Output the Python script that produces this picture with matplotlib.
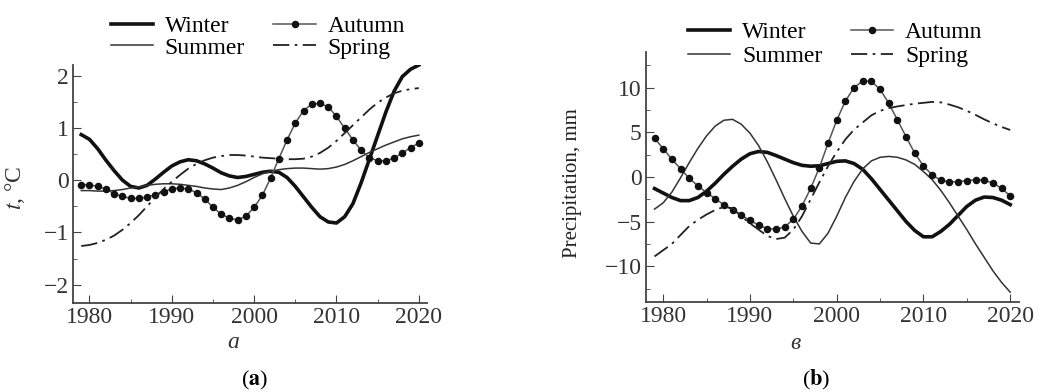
import numpy as np
import matplotlib
matplotlib.use("Agg")
from matplotlib import pyplot as plt
from matplotlib.ticker import MultipleLocator

plt.rcParams['font.family'] = 'serif'
plt.rcParams['font.serif'] = ['Liberation Serif', 'DejaVu Serif']
plt.rcParams['mathtext.fontset'] = 'stix'

years = np.arange(1979, 2021)

# (a) temperature anomalies, deg C
winter_t = [0.87, 0.78, 0.6, 0.38, 0.18, 0.0, -0.12, -0.15, -0.1, 0.02,
            0.15, 0.27, 0.35, 0.39, 0.37, 0.31, 0.23, 0.14, 0.08, 0.05,
            0.07, 0.11, 0.15, 0.17, 0.15, 0.05, -0.12, -0.32, -0.52, -0.7,
            -0.8, -0.82, -0.7, -0.45, -0.05, 0.4, 0.85, 1.3, 1.7, 1.98,
            2.12, 2.2]
summer_t = [-0.2, -0.2, -0.21, -0.21, -0.2, -0.18, -0.15, -0.13, -0.1, -0.08,
            -0.07, -0.07, -0.08, -0.1, -0.12, -0.15, -0.17, -0.18, -0.15, -0.1,
            -0.03, 0.05, 0.12, 0.17, 0.2, 0.22, 0.23, 0.23, 0.22, 0.21,
            0.22, 0.25, 0.3, 0.37, 0.45, 0.53, 0.6, 0.67, 0.73, 0.79,
            0.83, 0.86]
autumn_t = [-0.09, -0.09, -0.12, -0.17, -0.26, -0.31, -0.35, -0.35, -0.32, -0.28,
            -0.22, -0.17, -0.15, -0.17, -0.24, -0.36, -0.52, -0.65, -0.73, -0.76,
            -0.69, -0.52, -0.29, 0.04, 0.41, 0.77, 1.09, 1.33, 1.45, 1.47,
            1.4, 1.22, 0.99, 0.77, 0.57, 0.43, 0.37, 0.37, 0.42, 0.52,
            0.62, 0.71]
spring_t = [-1.26, -1.24, -1.2, -1.14, -1.06, -0.95, -0.82, -0.67, -0.5, -0.33,
            -0.17, -0.03, 0.1, 0.22, 0.31, 0.38, 0.43, 0.46, 0.48, 0.48,
            0.47, 0.45, 0.43, 0.42, 0.41, 0.4, 0.4, 0.41, 0.45, 0.52,
            0.62, 0.75, 0.9, 1.05, 1.2, 1.35, 1.48, 1.58, 1.66, 1.71,
            1.74, 1.76]

# (b) precipitation anomalies, mm
winter_p = [-1.3, -1.8, -2.3, -2.65, -2.65, -2.3, -1.6, -0.7, 0.3, 1.2,
            2.0, 2.6, 2.85, 2.75, 2.4, 2.0, 1.6, 1.3, 1.2, 1.25,
            1.5, 1.75, 1.8, 1.5, 0.85, -0.2, -1.4, -2.6, -3.8, -5.0,
            -6.0, -6.7, -6.7, -6.1, -5.3, -4.3, -3.3, -2.6, -2.25, -2.3,
            -2.6, -3.1]
summer_p = [-3.6, -2.9, -1.7, -0.1, 1.6, 3.2, 4.6, 5.7, 6.35, 6.45,
            5.9, 4.9, 3.5, 1.7, -0.3, -2.4, -4.4, -6.1, -7.4, -7.5,
            -6.3, -4.4, -2.3, -0.5, 0.9, 1.8, 2.2, 2.3, 2.2, 1.9,
            1.4, 0.6, -0.3, -1.5, -2.9, -4.4, -5.9, -7.5, -9.0, -10.5,
            -11.8, -12.9]
autumn_p = [4.33, 3.17, 1.98, 0.93, -0.15, -1.0, -1.75, -2.43, -3.13, -3.7,
            -4.3, -4.85, -5.4, -5.78, -5.86, -5.6, -4.74, -3.25, -1.27, 1.04,
            3.77, 6.34, 8.5, 10.0, 10.75, 10.7, 9.8, 8.25, 6.38, 4.5,
            2.65, 1.23, 0.22, -0.37, -0.56, -0.52, -0.41, -0.3, -0.37, -0.67,
            -1.27, -2.13]
spring_p = [-8.9, -8.2, -7.5, -6.5, -5.5, -4.8, -4.2, -3.7, -3.35, -3.5,
            -4.4, -5.2, -5.9, -6.6, -6.95, -6.8, -5.9, -4.4, -2.5, -0.6,
            1.2, 2.8, 4.2, 5.3, 6.1, 6.9, 7.4, 7.7, 7.9, 8.05,
            8.2, 8.3, 8.4, 8.35, 8.1, 7.8, 7.4, 6.95, 6.45, 6.0,
            5.6, 5.26]

labels = ['Winter', 'Summer', 'Autumn', 'Spring']

fig = plt.figure(figsize=(10.4, 3.92), dpi=100)
ax1 = fig.add_axes([0.0702, 0.227, 0.3404, 0.607])
ax2 = fig.add_axes([0.621, 0.2296, 0.3587, 0.638])


def draw(ax, w, s, a, sp):
    ax.plot(years, w, color='#111111', lw=2.6, label=labels[0])
    ax.plot(years, s, color='#333333', lw=1.1, label=labels[1])
    ax.plot(years, a, color='#555555', lw=1.1, marker='o', ms=4.4,
            mfc='#111111', mec='#111111', label=labels[2])
    ax.plot(years, sp, color='#222222', lw=1.3, ls=(0, (9, 3, 1.5, 3)),
            label=labels[3])
    for side in ['top', 'right']:
        ax.spines[side].set_visible(False)
    for side in ['left', 'bottom']:
        ax.spines[side].set_color('#444444')
        ax.spines[side].set_linewidth(1.3)
    ax.set_xlim(1978, 2021)
    ax.set_xticks([1980, 1990, 2000, 2010, 2020])
    ax.xaxis.set_minor_locator(MultipleLocator(5))
    ax.tick_params(which='both', direction='in', colors='#444444',
                   labelcolor='#333333', labelsize=17, pad=3)
    ax.tick_params(which='major', length=6)
    ax.tick_params(which='minor', length=3)
    h, l = ax.get_legend_handles_labels()
    return h, l


h, l = draw(ax1, winter_t, summer_t, autumn_t, spring_t)
ax1.set_ylim(-2.35, 2.2)
ax1.set_yticks([-2, -1, 0, 1, 2])
ax1.set_yticklabels(['\u22122', '\u22121', '0', '1', '2'])
ax1.yaxis.set_minor_locator(MultipleLocator(0.5))
ax1.set_ylabel(r'$t$, °C', fontsize=17, color='#333333')
ax1.yaxis.set_label_coords(-0.13, 0.483)
ax1.text(0.452, -0.164, 'a', transform=ax1.transAxes, fontsize=17,
         style='italic', ha='center', va='center', color='#333333')
ax1.legend(h, l, ncol=2, frameon=False, loc='center',
           bbox_to_anchor=(0.522, 1.118), fontsize=17, handlelength=1.8,
           handletextpad=0.5, columnspacing=1.2, labelspacing=0.0)

h, l = draw(ax2, winter_p, summer_p, autumn_p, spring_p)
ax2.set_ylim(-14, 14)
ax2.set_yticks([-10, -5, 0, 5, 10])
ax2.set_yticklabels(['\u221210', '\u22125', '0', '5', '10'])
ax2.yaxis.set_minor_locator(MultipleLocator(2.5))
ax2.set_ylabel('Precipitation, mm', fontsize=15, color='#222222')
ax2.yaxis.set_label_coords(-0.172, 0.476)
ax2.text(0.402, -0.164, '\u0432', transform=ax2.transAxes, fontsize=17,
         style='italic', ha='center', va='center', color='#333333')
ax2.legend(h, l, ncol=2, frameon=False, loc='center',
           bbox_to_anchor=(0.507, 1.03), fontsize=17, handlelength=1.8,
           handletextpad=0.5, columnspacing=1.2, labelspacing=0.1)

fig.text(255 / 1040, 1 - 380 / 392, r'($\mathbf{a}$)', fontsize=16,
         ha='center', va='center')
fig.text(816 / 1040, 1 - 380 / 392, r'($\mathbf{b}$)', fontsize=16,
         ha='center', va='center')

fig.savefig('out.png', dpi=100)
